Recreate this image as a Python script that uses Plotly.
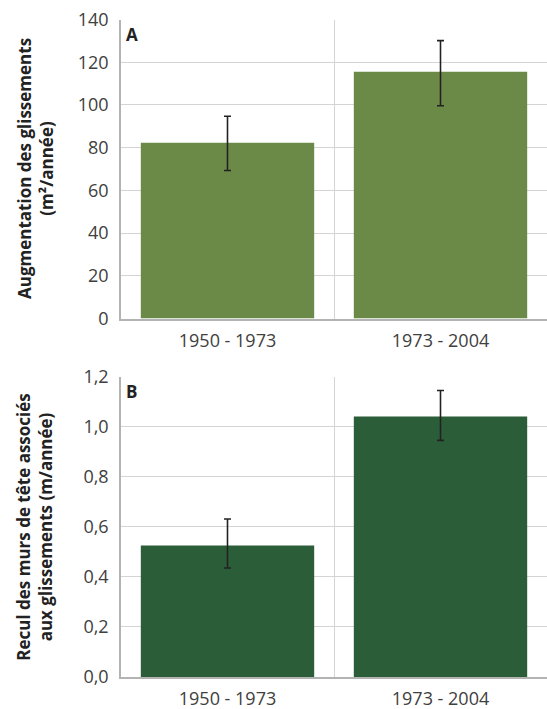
import plotly.graph_objects as go

categories = ["1950 - 1973", "1973 - 2004"]
a_values = [82.3, 115.5]
a_err_plus = [12.4, 14.6]
a_err_minus = [13.0, 15.9]
b_values = [0.525, 1.04]
b_err_plus = [0.106, 0.104]
b_err_minus = [0.09, 0.095]

a_ticks = [0, 20, 40, 60, 80, 100, 120, 140]
b_ticks = [0.0, 0.2, 0.4, 0.6, 0.8, 1.0, 1.2]
b_ticktext = [f"{v:.1f}".replace(".", ",") for v in b_ticks]

W, H = 547, 709
FONT = "Open Sans"
grid = "#d4d4d4"
axis_col = "#b3b3b3"
txt = "#404040"

fig = go.Figure()
fig.add_trace(go.Bar(
    x=categories, y=a_values, marker=dict(color="#6b8a47", line=dict(width=0)),
    error_y=dict(type="data", array=a_err_plus, arrayminus=a_err_minus,
                 color="#222222", thickness=1.6, width=3.5),
    xaxis="x", yaxis="y", showlegend=False))
fig.add_trace(go.Bar(
    x=categories, y=b_values, marker=dict(color="#2b5e38", line=dict(width=0)),
    error_y=dict(type="data", array=b_err_plus, arrayminus=b_err_minus,
                 color="#222222", thickness=1.6, width=3.5),
    xaxis="x2", yaxis="y2", showlegend=False))

xdom = [121 / W, 1.0]
ydom_a = [1 - 318.5 / H, 1 - 19.5 / H]
ydom_b = [1 - 677 / H, 1 - 376.5 / H]

common_x = dict(type="category", tickson="boundaries", showgrid=True, gridcolor=grid,
                gridwidth=1, showline=True, linecolor=axis_col, linewidth=1.5,
                ticks="", tickfont=dict(family=FONT, size=18, color=txt),
                ticklabelstandoff=5, domain=xdom, fixedrange=True, automargin=False)
common_y = dict(showgrid=True, gridcolor=grid, gridwidth=1, showline=True,
                linecolor=axis_col, linewidth=1.5, ticks="", zeroline=False,
                tickfont=dict(family=FONT, size=18, color=txt),
                ticklabelstandoff=7, automargin=False, fixedrange=True)

fig.update_layout(
    width=W, height=H, margin=dict(l=0, r=0, t=0, b=0),
    paper_bgcolor="white", plot_bgcolor="white",
    bargap=0.186,
    xaxis=dict(common_x, anchor="y"),
    yaxis=dict(common_y, domain=ydom_a, range=[0, 140], tickvals=a_ticks,
               anchor="x"),
    xaxis2=dict(common_x, anchor="y2"),
    yaxis2=dict(common_y, domain=ydom_b, range=[0, 1.2], tickvals=b_ticks,
                ticktext=b_ticktext, anchor="x2"),
)

title_font = dict(family=FONT, size=17, color="#222222")
fig.add_annotation(text="<b>Augmentation des glissements</b><br><b>(m²/année)</b>",
                   x=35 / W, y=sum(ydom_a) / 2, xref="paper", yref="paper",
                   textangle=-90, showarrow=False, font=title_font,
                   xanchor="center", yanchor="middle")
fig.add_annotation(text="<b>Recul des murs de tête associés</b><br><b>aux glissements (m/année)</b>",
                   x=35 / W, y=sum(ydom_b) / 2, xref="paper", yref="paper",
                   textangle=-90, showarrow=False, font=title_font,
                   xanchor="center", yanchor="middle")
fig.add_annotation(text="<b>A</b>", x=0.008, y=0.995, xref="x domain", yref="y domain",
                   showarrow=False, xanchor="left", yanchor="top",
                   font=dict(family=FONT, size=17, color="#222222"))
fig.add_annotation(text="<b>B</b>", x=0.008, y=0.995, xref="x2 domain", yref="y2 domain",
                   showarrow=False, xanchor="left", yanchor="top",
                   font=dict(family=FONT, size=17, color="#222222"))

fig.write_html("out.html", config={"displayModeBar": False},
               post_script="document.body.style.margin='0';")
